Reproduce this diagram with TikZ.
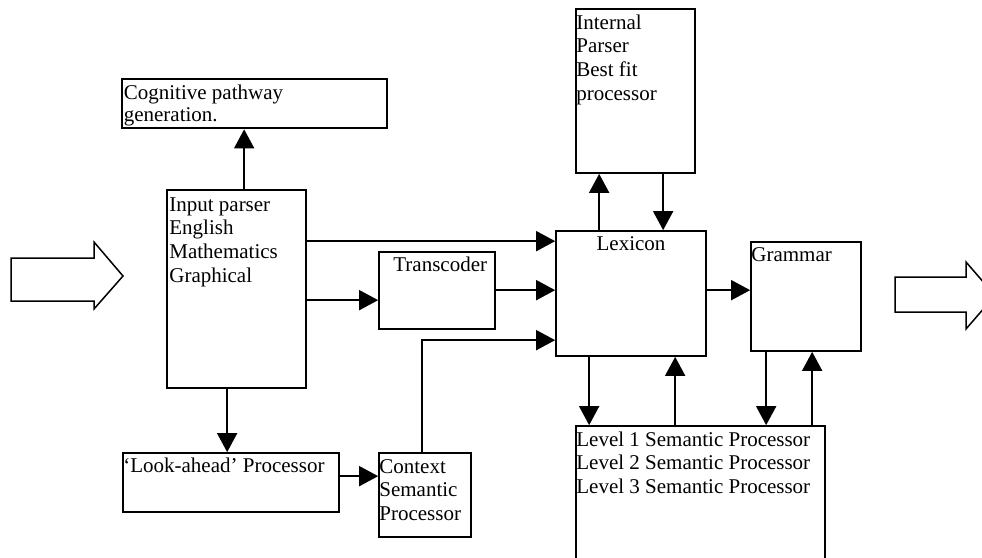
\documentclass[tikz,border=0pt]{standalone}
\usepackage{fontspec}
\setmainfont{Liberation Serif}
\usetikzlibrary{fit,arrows.meta,calc}
\begin{document}
\begin{tikzpicture}[x=1pt,y=-1pt,
  box/.style={draw, rectangle, line width=1.7pt, inner sep=0pt},
  thickbox/.style={box, line width=2.7pt},
  txt/.style={anchor=north west, inner sep=0pt, align=left, font=\fontsize{21}{23.6}\selectfont},
  arr/.style={line width=1.7pt, -{Triangle[length=19pt,width=20pt]}},
  conn/.style={line width=1.7pt},
  hollow/.style={draw, line width=1.5pt, line join=miter}]
\useasboundingbox (0,0) rectangle (982,557);
\clip (0,0) rectangle (982,557);

% boxes
\node[thickbox, fit={(122,79)(387,128)}] (cog) {};
\node[box, fit={(167,190)(306,388)}] (inp) {};
\node[box, fit={(576,9)(695,173)}] (ipr) {};
\node[box, fit={(556,231)(706,356)}] (lex) {};
\node[box, fit={(379,252)(495,329)}] (trans) {};
\node[box, fit={(751,242)(861,351)}] (gram) {};
\node[box, fit={(123,453)(339,512)}] (look) {};
\node[box, fit={(379,453)(471,537)}] (ctx) {};
\node[box, fit={(576,426)(825,580)}] (sem) {};

% texts
\node[txt] (cogt) at ([shift={(3,5.2)}]cog.north west) {\strut Cognitive pathway\\[-1.2pt]generation.};
\node[txt] (inpt) at ([shift={(3,5.5)}]inp.north west) {\strut Input parser\\English\\Mathematics\\Graphical};
\node[txt] (iprt) at ([shift={(1,4.5)}]ipr.north west) {\strut Internal\\Parser\\Best fit\\processor};
\node[txt, anchor=north] (lext) at ([shift={(0,3.5)}]lex.north) {\strut Lexicon};
\node[txt] (transt) at ([shift={(15,3.5)}]trans.north west) {\strut Transcoder};
\node[txt] (gramt) at ([shift={(1,3.5)}]gram.north west) {\strut Grammar};
\node[txt] (lookt) at ([shift={(1,3.5)}]look.north west) {\strut `Look-ahead' Processor};
\node[txt] (ctxt) at ([shift={(1,4.5)}]ctx.north west) {\strut Context\\Semantic\\Processor};
\node[txt] (semt) at ([shift={(1,4.5)}]sem.north west) {\strut Level 1 Semantic Processor\\Level 2 Semantic Processor\\Level 3 Semantic Processor};

% connector anchor points
\path (inp.north west) ++(78,0) coordinate (p1);
\path (inp.north east) ++(0,52) coordinate (p2);
\path (inp.north east) ++(0,111) coordinate (p3);
\path (trans.north east) ++(0,39) coordinate (p4);
\path (ctx.north west) ++(44,0) coordinate (p5);
\path (lex.north west) ++(0,110) coordinate (p5b);
\path (inp.south west) ++(61,0) coordinate (p6);
\path (look.north east) ++(0,24) coordinate (p7);
\path (lex.north west) ++(44,0) coordinate (p8);
\path (ipr.south west) ++(88,0) coordinate (p9);
\path (lex.north east) ++(0,60) coordinate (p10);
\path (lex.south west) ++(34,0) coordinate (p11);
\path (sem.north west) ++(100,0) coordinate (p12);
\path (gram.south west) ++(16,0) coordinate (p13);
\path (sem.north west) ++(237,0) coordinate (p14);

% connectors
\draw[arr] (p1) -- (p1 |- cog.south);
\draw[arr] (p2) -- (p2 -| lex.west);
\draw[arr] (p3) -- (p3 -| trans.west);
\draw[arr] (p4) -- (p4 -| lex.west);
\draw[arr] (p5) -- (p5 |- p5b) -- (p5b);
\draw[arr] (p6) -- (p6 |- look.north);
\draw[arr] (p7) -- (p7 -| ctx.west);
\draw[arr] (p8) -- (p8 |- ipr.south);
\draw[arr] (p9) -- (p9 |- lex.north);
\draw[arr] (p10) -- (p10 -| gram.west);
\draw[arr] (p11) -- (p11 |- sem.north);
\draw[arr] (p12) -- (p12 |- lex.south);
\draw[arr] (p13) -- (p13 |- sem.north);
\draw[arr] (p14) -- (p14 |- gram.south);

% big hollow arrows
\draw[hollow] (11,258) -- (94,258) -- (94,242) -- (123,276) -- (94,309) -- (94,301) -- (11,301) -- cycle;
\draw[hollow] (895,277) -- (966,277) -- (966,262) -- (995,295.5) -- (966,329) -- (966,312) -- (895,312) -- cycle;
\end{tikzpicture}
\end{document}
